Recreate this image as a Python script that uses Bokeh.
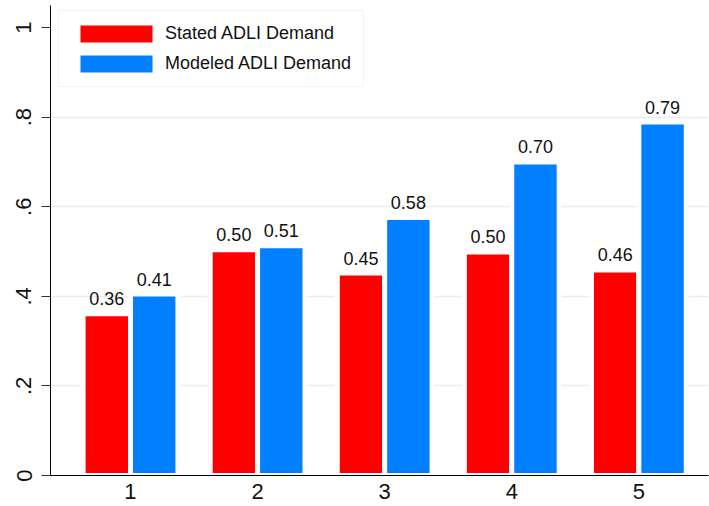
from bokeh.plotting import figure
from bokeh.models import FixedTicker, Legend, LegendItem, ColumnDataSource, Range1d
from bokeh.transform import dodge
from bokeh.core.properties import value
from bokeh.embed import file_html
from bokeh.resources import INLINE

# ---- data ----
categories = [1, 2, 3, 4, 5]
stated = [0.361, 0.504, 0.452, 0.499, 0.459]
modeled = [0.405, 0.513, 0.576, 0.700, 0.789]
series_names = ["Stated ADLI Demand", "Modeled ADLI Demand"]
y_ticks = [0, 0.2, 0.4, 0.6, 0.8, 1.0]
y_tick_labels = ["0", ".2", ".4", ".6", ".8", "1"]
grid_ticks = [0.2, 0.4, 0.6, 0.8]

RED = "#FF0000"
BLUE = "#0080FF"
FONT = "Liberation Sans"
BAR_W = 0.373

src = ColumnDataSource(dict(
    x=categories,
    stated=stated,
    modeled=modeled,
    stated_lbl=["%.2f" % v for v in stated],
    modeled_lbl=["%.2f" % v for v in modeled],
))

p = figure(width=709, height=506,
           x_range=Range1d(0.3706, 5.548), y_range=Range1d(0, 1.0493),
           output_backend="svg", toolbar_location=None,
           min_border_left=50, min_border_right=1,
           min_border_top=5, min_border_bottom=31)
p.outline_line_color = None
p.background_fill_color = "white"
p.border_fill_color = "white"

p.vbar(x=dodge("x", -BAR_W / 2, range=p.x_range), top="stated", width=BAR_W,
       source=src, fill_color=RED, line_color="white", line_width=5)
p.vbar(x=dodge("x", BAR_W / 2, range=p.x_range), top="modeled", width=BAR_W,
       source=src, fill_color=BLUE, line_color="white", line_width=5)

p.text(x=dodge("x", -BAR_W / 2, range=p.x_range), y="stated", text="stated_lbl",
       source=src, text_align="center", text_baseline="alphabetic", y_offset=-15,
       text_font=value(FONT), text_font_size="18px", text_color="#111111")
p.text(x=dodge("x", BAR_W / 2, range=p.x_range), y="modeled", text="modeled_lbl",
       source=src, text_align="center", text_baseline="alphabetic", y_offset=-15,
       text_font=value(FONT), text_font_size="18px", text_color="#111111")

# axes
xa = p.xaxis[0]
xa.ticker = FixedTicker(ticks=categories)
xa.major_tick_out = 0
xa.major_tick_in = 0
xa.minor_tick_out = 0
xa.minor_tick_in = 0
xa.axis_line_color = "#000000"
xa.major_label_text_font = FONT
xa.major_label_text_font_size = "22px"
xa.major_label_text_color = "#111111"
xa.major_label_standoff = 8

ya = p.yaxis[0]
ya.ticker = FixedTicker(ticks=y_ticks)
ya.major_label_overrides = {t: l for t, l in zip(y_ticks, y_tick_labels)}
ya.major_tick_out = 9
ya.major_tick_in = 0
ya.minor_tick_out = 0
ya.minor_tick_in = 0
ya.major_tick_line_color = "#333333"
ya.axis_line_color = "#000000"
ya.major_label_orientation = "vertical"
ya.major_label_text_font = FONT
ya.major_label_text_font_size = "22px"
ya.major_label_text_color = "#111111"
ya.major_label_standoff = 10

p.xgrid.grid_line_color = None
p.ygrid.ticker = FixedTicker(ticks=grid_ticks)
p.ygrid.grid_line_color = "#E6EEF0"
p.ygrid.grid_line_width = 1.5

# legend (swatches without outline; zero-height bars outside the visible range)
r_s = p.vbar(x=[-5], top=[0], width=BAR_W, fill_color=RED, line_color=None)
r_m = p.vbar(x=[-5], top=[0], width=BAR_W, fill_color=BLUE, line_color=None)
legend = Legend(items=[LegendItem(label=series_names[0], renderers=[r_s]),
                       LegendItem(label=series_names[1], renderers=[r_m])],
                location=(8, 388), padding=12, spacing=9,
                glyph_width=90, glyph_height=21, label_height=21,
                label_standoff=4,
                label_text_font=FONT, label_text_font_size="18px",
                label_text_color="#111111",
                border_line_color="#E3EAEC", border_line_width=1,
                background_fill_color="white", background_fill_alpha=1.0)
p.add_layout(legend)

open("out.html", "w").write(file_html(p, INLINE))
